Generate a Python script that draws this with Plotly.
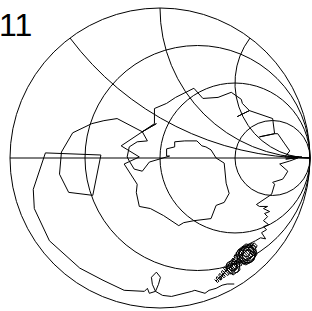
import numpy as np
import plotly.graph_objects as go

gamma_re = [
    0.364, 0.383, 0.393, 0.374, 0.381, 0.404, 0.414, 0.391, 0.399, 0.426,
    0.435, 0.409, 0.416, 0.448, 0.460, 0.424, 0.431, 0.472, 0.484, 0.439,
    0.449, 0.494, 0.504, 0.459, 0.468, 0.513, 0.523, 0.478, 0.486, 0.535,
    0.547, 0.493, 0.501, 0.559, 0.572, 0.508, 0.517, 0.581, 0.591, 0.527,
    0.540, 0.599, 0.606, 0.551, 0.564, 0.613, 0.621, 0.576, 0.587, 0.629,
    0.636, 0.600, 0.615, 0.641, 0.647, 0.628,
    0.373, 0.413, 0.387, 0.433, 0.400, 0.440,
    0.447, 0.493, 0.533, 0.520, 0.467, 0.440, 0.473, 0.527, 0.533, 0.487,
    0.447, 0.460, 0.507, 0.513, 0.473,
    0.480, 0.507, 0.520, 0.493, 0.460, 0.487, 0.513, 0.500, 0.467,
    0.520, 0.573, 0.633, 0.647, 0.613, 0.553, 0.513, 0.533, 0.600, 0.640,
    0.627, 0.573, 0.520, 0.507, 0.560, 0.620, 0.633, 0.587, 0.533, 0.527,
    0.580, 0.627, 0.593, 0.547, 0.560, 0.607, 0.587,
    0.540, 0.593, 0.620, 0.573, 0.533, 0.567, 0.613, 0.640, 0.600, 0.547,
    0.520, 0.553, 0.636,
    0.670, 0.704, 0.677, 0.710, 0.690, 0.724, 0.690, 0.717, 0.697, 0.731,
    0.690, 0.717, 0.663, 0.643,
    0.744, 0.764, 0.751, 0.818, 0.832, 0.852, 0.798, 0.865, 0.919, 0.838,
    0.946, 0.852, 0.926, 0.832, 0.865, 0.832, 0.785, 0.764, 0.663, 0.764,
    0.751, 0.596, 0.515, 0.596, 0.549, 0.542, 0.475, 0.387, 0.286, 0.226,
    0.104, 0.044, -0.037, -0.037, -0.118, -0.024, -0.118,
    -0.259, -0.138, -0.239, -0.152, -0.158, -0.138, -0.064, 0.024, 0.125, 0.158,
    0.226, 0.340, 0.374, 0.428, 0.461, 0.441, 0.428, 0.374, 0.340, 0.306,
    0.279, 0.246, 0.165, 0.098, 0.098, 0.044, 0.044, 0.064,
    -0.071, -0.118, -0.172, -0.205, -0.219, -0.205, -0.152, -0.084,
    -0.118, -0.286, -0.374, -0.455, -0.582, -0.657, -0.670, -0.609, -0.448, -0.394,
    -0.764, -0.845, -0.838, -0.737, -0.535, -0.380, -0.239, -0.104, -0.084, -0.071,
    -0.030, -0.051, -0.057, -0.024, 0.003, -0.010, -0.030, 0.017, 0.077, 0.212,
    0.232, 0.300, 0.327, 0.374, 0.414, 0.448, 0.495,
]
gamma_im = [
    -0.810, -0.830, -0.821, -0.801, -0.790, -0.814, -0.805, -0.781, -0.769, -0.799,
    -0.789, -0.760, -0.749, -0.783, -0.776, -0.737, -0.725, -0.769, -0.763, -0.715,
    -0.705, -0.753, -0.745, -0.697, -0.687, -0.735, -0.726, -0.678, -0.667, -0.720,
    -0.713, -0.655, -0.644, -0.707, -0.700, -0.632, -0.623, -0.691, -0.682, -0.614,
    -0.607, -0.670, -0.659, -0.601, -0.594, -0.647, -0.635, -0.587, -0.581, -0.625,
    -0.613, -0.574, -0.570, -0.599, -0.585, -0.565,
    -0.820, -0.780, -0.807, -0.760, -0.813, -0.747,
    -0.700, -0.673, -0.707, -0.760, -0.773, -0.733, -0.687, -0.693, -0.747, -0.780,
    -0.747, -0.707, -0.700, -0.740, -0.753,
    -0.720, -0.687, -0.727, -0.760, -0.740, -0.707, -0.713, -0.747, -0.727,
    -0.613, -0.573, -0.587, -0.640, -0.693, -0.707, -0.667, -0.607, -0.580, -0.620,
    -0.680, -0.713, -0.687, -0.633, -0.587, -0.600, -0.660, -0.700, -0.680, -0.627,
    -0.593, -0.633, -0.687, -0.667, -0.613, -0.620, -0.660,
    -0.647, -0.607, -0.653, -0.687, -0.653, -0.600, -0.593, -0.647, -0.700, -0.693,
    -0.647, -0.593, -0.552,
    -0.532, -0.539, -0.498, -0.478, -0.458, -0.444, -0.418, -0.391, -0.370, -0.357,
    -0.337, -0.323, -0.323, -0.310,
    -0.242, -0.175, -0.162, -0.141, -0.121, -0.088, -0.040, -0.020, 0.000, -0.007,
    0.007, 0.013, 0.007, 0.007, 0.047, 0.094, 0.162, 0.162, 0.141, 0.162,
    0.263, 0.316, 0.276, 0.316, 0.364, 0.391, 0.438, 0.404, 0.397, 0.465,
    0.404, 0.364, 0.330, 0.229, 0.175, 0.229, 0.175,
    0.081, 0.007, -0.040, -0.175, -0.229, -0.323, -0.337, -0.384, -0.451, -0.431,
    -0.418, -0.404, -0.316, -0.296, -0.236, -0.168, -0.034, 0.000, 0.054, 0.074,
    0.081, 0.114, 0.114, 0.108, 0.074, 0.061, 0.013, 0.013,
    -0.027, -0.088, -0.074, -0.020, 0.007, 0.074, 0.108, 0.114,
    0.175, 0.263, 0.249, 0.229, 0.168, 0.040, -0.108, -0.229, -0.249, 0.020,
    0.034, -0.209, -0.337, -0.552, -0.734, -0.815, -0.882, -0.889, -0.869, -0.902,
    -0.889, -0.842, -0.795, -0.761, -0.795, -0.842, -0.889, -0.916, -0.923, -0.889,
    -0.882, -0.902, -0.882, -0.869, -0.848, -0.840, -0.840,
]

resistance_grid = [1 / 3, 1, 3]
reactance_grid = [0.5, 1, 2]
title_text = "11"

g = np.array(gamma_re) + 1j * np.array(gamma_im)
z = (1 + g) / (1 - g)

fig = go.Figure()
fig.add_trace(go.Scattersmith(
    real=z.real, imag=z.imag, mode="lines",
    line=dict(color="black", width=1), showlegend=False, hoverinfo="skip",
))

W, H = 312, 311
cx, cy, R = 160, 158, 150
fig.update_layout(
    width=W, height=H,
    margin=dict(l=0, r=0, t=0, b=0),
    paper_bgcolor="white",
    smith=dict(
        domain=dict(x=[(cx - R) / W, (cx + R) / W],
                    y=[(H - cy - R) / H, (H - cy + R) / H]),
        bgcolor="white",
        realaxis=dict(tickvals=resistance_grid, showticklabels=False, ticks="",
                      gridcolor="black", gridwidth=1, linecolor="black", linewidth=1),
        imaginaryaxis=dict(tickvals=reactance_grid, showticklabels=False, ticks="",
                           gridcolor="black", gridwidth=1, linecolor="black", linewidth=1),
    ),
    annotations=[dict(text=title_text, xref="paper", yref="paper",
                      x=-3.5 / W, y=1 - 5 / H, xanchor="left", yanchor="top",
                      showarrow=False,
                      font=dict(family="Liberation Sans, Arial", size=32, color="black"))],
)
fig.write_html("out.html", post_script="document.body.style.margin='0';",
               config={"displayModeBar": False})
